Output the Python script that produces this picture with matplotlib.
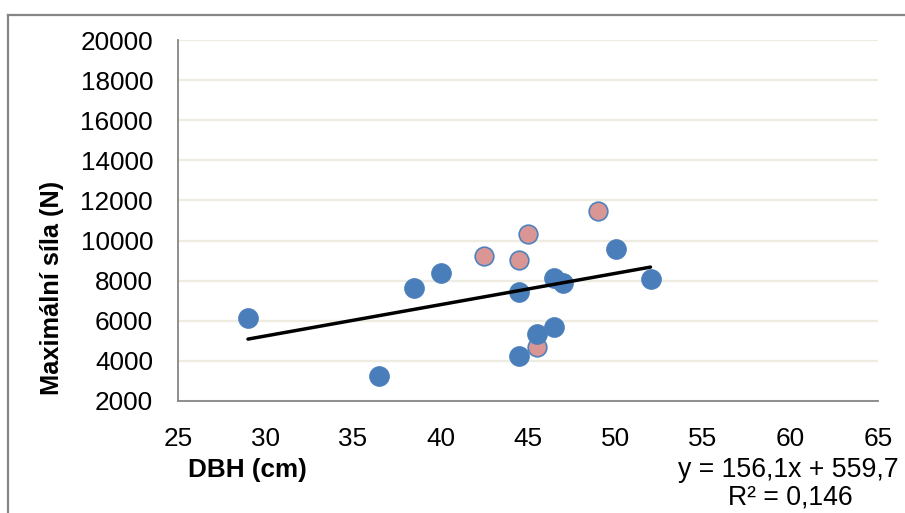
import matplotlib
matplotlib.use('Agg')
import matplotlib.pyplot as plt
from matplotlib.lines import Line2D

plt.rcParams['font.family'] = ['Liberation Sans', 'DejaVu Sans']

# DBH (cm) vs maximum force (N)
blue_x = [29, 36.5, 38.5, 40, 44.5, 44.5, 45.5, 46.5, 46.5, 47, 50, 52]
blue_y = [6130, 3230, 7630, 8370, 7420, 4240, 5330, 5670, 8130, 7880, 9570, 8070]
pink_x = [42.5, 44.5, 45, 45.5, 49]
pink_y = [9230, 9050, 10320, 4700, 11460]

slope = 156.1
intercept = 559.7
eq_text = 'y = 156,1x + 559,7'
r2_text = 'R² = 0,146'

x_ticks = [25, 30, 35, 40, 45, 50, 55, 60, 65]
y_ticks = [2000, 4000, 6000, 8000, 10000, 12000, 14000, 16000, 18000, 20000]

W, H = 905, 513
fig = plt.figure(figsize=(W / 100, H / 100), dpi=100)
ax = fig.add_axes([178 / W, 1 - 401 / H, 700 / W, 361 / H])

ax.scatter(pink_x, pink_y, s=180, color='#D99694', edgecolors='#4F81BD',
           linewidths=1.2, zorder=3)
ax.scatter(blue_x, blue_y, s=205, color='#4A7EBB', edgecolors='#4A7EBB',
           linewidths=0.5, zorder=4)

all_x = blue_x + pink_x
x0, x1 = min(all_x), max(all_x)
ax.plot([x0, x1], [slope * x0 + intercept, slope * x1 + intercept],
        color='black', lw=2.5, zorder=5, solid_capstyle='round')

ax.set_xlim(25, 65)
ax.set_ylim(2000, 20000)
ax.set_xticks(x_ticks)
ax.set_yticks(y_ticks)
ax.tick_params(length=0, labelsize=18.8)
ax.tick_params(axis='x', pad=19)
ax.tick_params(axis='y', pad=18)
ax.grid(axis='y', color='#EEECE1', lw=1.6, zorder=0)
for s in ['top', 'right']:
    ax.spines[s].set_visible(False)
for s in ['left', 'bottom']:
    ax.spines[s].set_color('#868686')
    ax.spines[s].set_linewidth(1.3)

fig.text(52 / W, 1 - 288 / H, 'Maximální síla (N)', rotation=90,
         fontsize=18.3, fontweight='bold', ha='center', va='center')
fig.text(188 / W, 1 - 470 / H, 'DBH (cm)', fontsize=18.8, fontweight='bold',
         ha='left', va='center')
fig.text(899 / W, 1 - 470 / H, eq_text, fontsize=19.2, ha='right', va='center')
fig.text(790 / W, 1 - 498 / H, r2_text, fontsize=19.2, ha='center', va='center')

# chart frame
fig.add_artist(Line2D([8 / W, 1.0], [1 - 15 / H, 1 - 15 / H],
                      transform=fig.transFigure, color='#868686', lw=1.6))
fig.add_artist(Line2D([8 / W, 8 / W], [0, 1 - 15 / H],
                      transform=fig.transFigure, color='#868686', lw=1.6))

fig.savefig('out.png', dpi=100)
